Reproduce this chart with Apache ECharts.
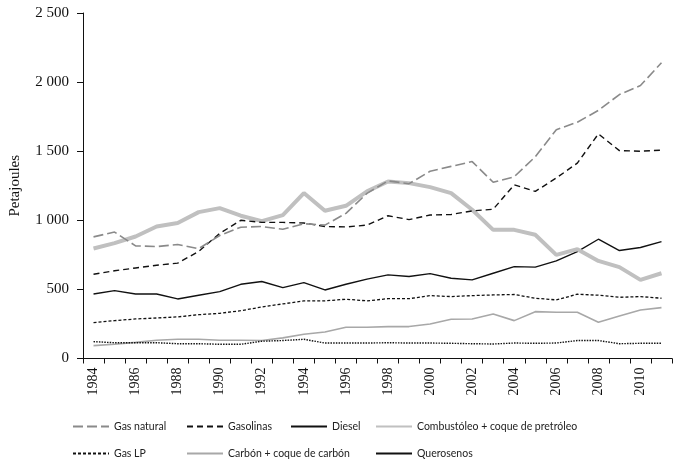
<!DOCTYPE html>
<html><head><meta charset="utf-8">
<script src="https://cdn.jsdelivr.net/npm/echarts@6/dist/echarts.min.js"></script>
<style>html,body{margin:0;padding:0;background:#fff}#c{width:681px;height:463px}</style>
</head><body><div id="c"></div>
<script>
const years = ['1984','1985','1986','1987','1988','1989','1990','1991','1992','1993','1994','1995','1996','1997','1998','1999','2000','2001','2002','2003','2004','2005','2006','2007','2008','2009','2010','2011'];
const gasNatural = [880,915,815,810,825,795,890,950,955,935,975,965,1050,1195,1285,1265,1355,1390,1425,1275,1315,1460,1655,1710,1795,1910,1975,2140];
const gasolinas = [610,635,655,675,690,775,905,1000,985,985,980,955,952,965,1033,1005,1038,1042,1068,1080,1257,1209,1306,1414,1625,1504,1500,1508];
const diesel = [467,491,467,467,431,458,484,537,557,513,549,496,537,574,605,593,614,581,569,617,665,661,706,774,863,781,803,846];
const combustoleo = [796,835,883,955,980,1059,1088,1033,994,1038,1197,1069,1105,1209,1281,1269,1240,1197,1076,931,931,895,750,791,706,661,569,617];
const gasLP = [260,274,286,293,301,317,327,346,373,395,417,417,429,417,433,433,455,448,455,460,463,436,424,465,458,443,448,436];
const carbon = [93,103,117,132,139,139,132,132,130,149,175,192,226,226,231,231,250,284,286,322,274,339,335,335,262,308,351,368];
const querosenos = [122,114,114,114,107,107,103,103,125,130,139,112,112,112,114,112,112,110,107,105,112,110,112,130,130,107,110,110];
const yTicks = [0,500,1000,1500,2000,2500];

const serif = '"Liberation Serif","DejaVu Serif",serif';
const sans = 'Lato,"Liberation Sans",sans-serif';
const fmt = v => String(v).replace(/\B(?=(\d{3})+(?!\d))/g,' ');

function mk(name, data, color, width, type, z){
  return {name, type:'line', data, symbol:'none', z:z||2, animation:false,
    lineStyle:{color, width, type}, itemStyle:{color}};
}
const series = [
  mk('Carbón + coque de carbón', carbon, '#a8a8a8', 1.6, 'solid'),
  mk('Querosenos', querosenos, '#111', 1.4, [1.5,1.2]),
  mk('Gas LP', gasLP, '#111', 1.3, [3,2]),
  mk('Diesel', diesel, '#111', 1.4, 'solid'),
  mk('Combustóleo + coque de pretróleo', combustoleo, '#c0c0c0', 4, 'solid'),
  mk('Gasolinas', gasolinas, '#111', 1.4, [6,4]),
  mk('Gas natural', gasNatural, '#8a8a8a', 1.6, [10,4]),
];
function lg(name, left, top, extra){
  const d = Object.assign({name}, extra||{});
  return {data:[d], left, top, itemWidth:36, itemHeight:14, itemGap:0, padding:0,
    itemStyle:{opacity:0, color:'rgba(0,0,0,0)', borderWidth:0},
    textStyle:{fontFamily:sans, fontSize:10.5, color:'#222'}, selectedMode:false};
}
const chart = echarts.init(document.getElementById('c'));
chart.setOption({
  backgroundColor:'#fff',
  animation:false,
  grid:{left:77, right:9, top:13, bottom:104.5, containLabel:false},
  xAxis:{type:'category', data:years, boundaryGap:true,
    axisLine:{lineStyle:{color:'#111', width:1}},
    axisTick:{show:true, interval:0, length:5, lineStyle:{color:'#111'}},
    axisLabel:{interval:1, rotate:90, margin:9, fontFamily:serif, fontSize:14, color:'#111'}},
  yAxis:{type:'value', min:yTicks[0], max:yTicks[yTicks.length-1], interval:500,
    name:'Petajoules', nameLocation:'middle', nameGap:60, nameRotate:90,
    nameTextStyle:{fontFamily:serif, fontSize:15, color:'#111'},
    axisLine:{show:true, lineStyle:{color:'#111', width:1}},
    axisTick:{show:true, length:6, lineStyle:{color:'#111'}},
    splitLine:{show:false},
    axisLabel:{formatter:fmt, margin:14, fontFamily:serif, fontSize:15, color:'#111'}},
  legend:[
    lg('Gas natural', 72, 421),
    lg('Gasolinas', 186, 421),
    lg('Diesel', 290, 421),
    lg('Combustóleo + coque de pretróleo', 375, 421),
    lg('Gas LP', 72, 448),
    lg('Carbón + coque de carbón', 186, 448),
    lg('Querosenos', 375, 448, {lineStyle:{type:'solid'}}),
  ],
  series
});
</script></body></html>
